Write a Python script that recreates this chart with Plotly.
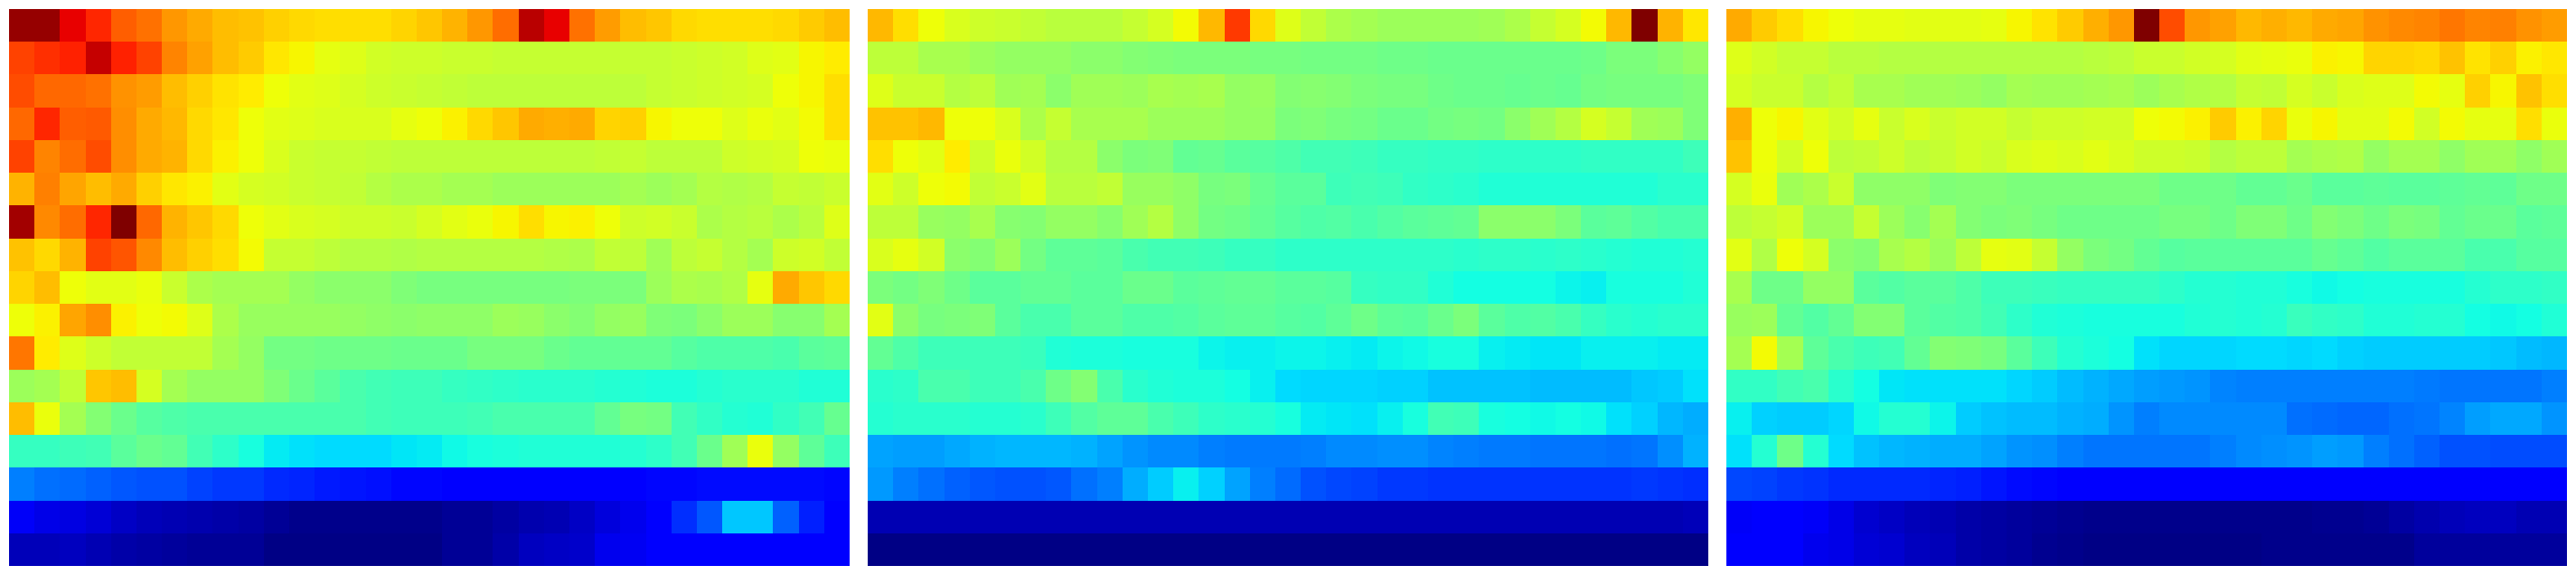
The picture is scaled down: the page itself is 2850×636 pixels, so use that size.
import plotly.graph_objects as go

panel_a = [
[98,98,91,87,81,79,75,73,71,70.5,69,68,67.5,67.5,67.5,68.5,70,72,75,79.5,95,91,79,74.5,71,70,68,67.5,67.5,67.5,68,69.5,71],
[84,86,87.5,94,87.5,84,77,74,71,69.5,66.5,65,63,62,60.5,60,60,59.5,59.5,59,59,59,59,59,59,59,59.5,60,60.5,62,62.5,65,66],
[83,80,80,79,75.5,74.5,71,69,67,66,64,62.5,62,61,60,59.5,59,58.5,58,58,58,58,58,58,58,59,59.5,60,60.5,61,64,65,67.5],
[80,87,81,81.5,76,73,71.5,68,66.5,64,62.5,62,61.5,61.5,61.5,63,64,65.5,68,70,73,72.5,73,68.5,69,65,64,64,62,63.5,62.5,64.5,67.5],
[84,77,79.5,83,76,73,72,68,65.5,64,61.5,59.5,59,59,58.5,58,58,58,58,58,58,58,58,58.5,59,58,58,58,60,60.5,61,64,63.5],
[72,77.5,73.5,71,73,69,66.5,65.5,62.5,61,60.5,59.5,59,58.5,57,56,56,55,55,54,54,54,54,54,55,54,55,57,56.5,57,59,58.5,59.5],
[97,76.5,79.5,87,100,80,72,70,68,64,62.5,61.5,61,60,60,59.5,61,62.5,63.5,65,67.5,65,65.5,64,60,60.5,59.5,56,57,57.5,56,57.5,62],
[70.5,68,72,84,82,76.5,71,69,67.5,64.5,59,59,58,57,57,56.5,57,57,57,57,57,56.5,56,58.5,58,54.5,58,59,57,55,60,60.5,58.5],
[68.5,71,64,62.5,62.5,63.5,59.5,56,55,55,55,53,52,52,52,50.5,49.5,49.5,49.5,49.5,49.5,49.5,50,50,50,54,56,55.5,56.5,63,73,70,68],
[64,65.5,73.5,76,65.5,64,64.5,62,56,53.5,53.5,53.5,53.5,53,52.5,52,52.5,52.5,52.5,54,53.5,52,51,53,53.5,50.5,50,52,54,54,51.5,51.5,55],
[78.5,66,62,60,58.5,58.5,58.5,58.5,55,53,49,49,48.5,48.5,48.5,48,48,48,49.5,49.5,49.5,48,47,47,47,47,45.5,44.5,44.5,44.5,44,46,46.5],
[54,55,58.5,70,71,61,55,53,53,53,50.5,48,46,44,43,42.5,42.5,41.5,41,40.5,40,40,40,39.5,39,38.5,38.5,39.5,40,40,40,39,39],
[71,63.5,55,51,48,45.5,44.5,44,44,44,44,44,44,44,43,42.5,42.5,42.5,43,44,44,44,44,47,49.5,49,43,41,39.5,39,41,43,47.5],
[41.5,41.5,42.5,43,46,48,47,43,40.5,38,35.5,34.5,34,34,34,35,35.5,37,38,38.5,39,39,39,39,39.5,40.5,43,48,54.5,63.5,53,46.5,42.5],
[25,23.5,23,22,21,20.5,20.5,19,18,18,16.5,16,15,14.5,14,13,13,12,12,12,12,12,12,12.5,12.5,13,13,13.5,13.5,13.5,13.5,13.5,13],
[10.5,9,8.5,7.5,6,5,4.5,4,3.5,3,2,1,1,1,1,1,1,2,2,3,4,4.5,6,8,9.5,12,17,21,32,32,22,15.5,11],
[5,5,5.5,4.5,3.5,3,2.5,2,2,2,0.5,0.5,0.5,0.5,0.5,0.5,0.5,2,2,3.5,5.5,6,6.5,9.5,10,11,12,12,12,12,12,12,12],
]

panel_b = [
[71.5,67.5,64,61.5,60,59.5,58.5,57.5,57.5,57.5,59,61,64.5,71.5,85,68,62,58.5,56,55,54,54,54,54,54.5,56,59,61,64.5,71.5,100,72,66.5],
[58,58,55.5,55.5,54,53,53,53,52,52,51,50.5,50,50,50,49.5,49.5,49,49,49,48.5,48.5,48,48,48,48,48,48,48.5,50,50,51.5,53],
[62,59.5,59.5,57,58,54.5,55,52,54.5,54.5,54,55.5,55,55.5,53,53.5,51,51.5,51,50,49.5,49.5,48.5,48,48,47.5,48,47.5,49,49.5,49.5,49.5,50.5],
[70.5,70.5,71.5,64,64,61.5,56,59,55.5,55.5,55.5,54,54,54,53,53,50,50.5,49.5,49,48,48,49,49.5,49,52,54.5,57,61,59,54.5,54,50.5],
[67.5,64,62.5,66,60,63.5,60.5,57,57,52,50,50.5,47,47.5,46,45.5,44.5,43,43,42.5,41.5,41.5,41,41,40.5,40.5,40.5,40.5,41,41,41,41,42.5],
[62.5,60,64,64.5,58.5,59.5,62.5,57.5,57.5,58.5,53.5,53.5,52.5,49.5,50,47.5,46,46,42.5,43,42.5,41,40.5,40,39,39,39,39,39,39,39,40,40],
[58,58,53.5,53,55.5,51.5,51,53,53,51.5,54.5,57,52.5,49,48.5,47,45.5,44.5,45,44,45,46,46.5,47,52,52,52,50,46,46.5,45,44,44],
[61.5,63,60.5,52,51,54,49,46.5,46.5,46,44,43,43,42.5,41.5,41.5,40.5,40.5,40.5,40.5,40.5,40.5,40.5,40,40.5,40.5,40,40.5,40,39.5,39,39,39.5],
[50,49,50.5,48.5,46,46,47,47,46,46,48,48,46,46.5,47,47,46,46,45.5,41.5,41,41,39,37.5,37.5,37.5,37.5,36.5,36,38,38,38,39],
[62.5,52,49.5,50,50.5,46,44,44,46,46,44.5,44.5,45,46,46.5,46.5,45.5,45,46.5,48.5,46.5,46,48,50,46,44.5,45,44,41.5,40,39.5,40,40],
[47,44.5,42.5,42.5,42.5,42.5,42,39,38.5,38.5,38,38,38,36.5,36,36,36.5,36.5,36,35.5,36.5,37,38,38,36,35.5,35,35,36,36,36,35.5,35.5],
[40,40.5,44,44,42.5,42.5,44,48.5,51,44,40,39,38.5,38.5,37.5,36,34,33.5,33.5,33.5,33,33,31.5,31.5,31.5,31.5,31,31,31,31,32,32.5,34.5],
[39.5,40,40,40,39.5,39.5,40,42.5,45,46.5,46.5,44,42.5,40.5,40,39.5,38,35.5,35,34.5,36,38,43,42.5,38,37.5,37,37.5,37,34.5,33,30.5,29.5],
[28.5,28,28,29,30,30.5,30.5,30.5,30,28.5,27,26,26,25,24.5,24.5,24.5,25,26,26,26.5,26.5,25.5,25,24.5,24.5,24,24,24,23.5,24,26.5,30],
[27.5,25,23.5,22,21,20.5,20.5,21,23.5,25,29.5,32.5,36,33,28.5,25,23,20.5,19.5,19,18,18,17.5,17.5,17.5,17.5,17.5,17.5,17.5,17.5,18,17.5,17],
[4.5,4.5,4.5,4.5,4.5,4.5,4.5,4.5,4.5,4.5,4.5,4.5,4.5,4.5,4.5,4.5,4.5,4.5,4.5,4.5,4.5,4.5,4.5,4.5,4.5,4.5,4.5,4.5,4.5,4.5,4.5,4.5,5],
[0.5,0.5,0.5,0.5,0.5,0.5,0.5,0.5,0.5,0.5,0.5,0.5,0.5,0.5,0.5,0.5,0.5,0.5,0.5,0.5,0.5,0.5,0.5,0.5,0.5,0.5,0.5,0.5,0.5,0.5,0.5,0.5,0.5],
]

panel_c = [
[73,69.5,67.5,65,64,63,63,62.5,62.5,62.5,63,65,67,69.5,72.5,75,100,83,75,74,71.5,72.5,71.5,73,73.5,75.5,76.5,77,78.5,77,77.5,75.5,74.5],
[62,60.5,59,59,57.5,57.5,57,57,57,57,57,57,57,57,57.5,58,59.5,59.5,60.5,61,62.5,63,63.5,65.5,65,68.5,68.5,68,70.5,67,69,65.5,66.5],
[61,59.5,59.5,57,58.5,55.5,55.5,54.5,54.5,54,53,55,54.5,54.5,55,55.5,54,55.5,56.5,57,59,58.5,61,59.5,61.5,62,62,64.5,63,69,65,70.5,67.5],
[72.5,64,65,62.5,60.5,63,59.5,61.5,59.5,60.5,60.5,59,60,60,60.5,60.5,64,64.5,65.5,69.5,65.5,68.5,63.5,65,62.5,62.5,64.5,60.5,64.5,63,63,67.5,63.5],
[70.5,64,60.5,64,58,58.5,60,58,59,60.5,59.5,61.5,62,61.5,62.5,61.5,60,60,59.5,57,58,58,55,56,56.5,53,55,55,52.5,54.5,54.5,52.5,54.5],
[61,63.5,54.5,56,59.5,52.5,52.5,52.5,50.5,51,51,50,50,50,50,50,50,48.5,48.5,48.5,47,47,48,46,46,46.5,46,46,46.5,47,46.5,48.5,48.5],
[58,59,60.5,54,54,59,54,51.5,55,51,50,50.5,49.5,48.5,48.5,48.5,48.5,49.5,49.5,48.5,50.5,50.5,48.5,51,50,48.5,50,49.5,47,48,48,46,46.5],
[62.5,56.5,64,61,52,51,55.5,57,54,58,63,62.5,59,53,50,49,47,45.5,46,46,46,46,46,47.5,46.5,45,46,46,46,44,44,45.5,45.5],
[55.5,48.5,48.5,53,53,46,45,46,46,44.5,42.5,42.5,42,41.5,41.5,41.5,41.5,40.5,39.5,39.5,39,39,38,37,37.5,38,38,38,38,39.5,40.5,40.5,41],
[53.5,54,47,45,47,51,51,46,45,44.5,43,40.5,39,38.5,38,38,38,38,39,39.5,39,39.5,42,41,40.5,39,39,39.5,39.5,37.5,37,37.5,39],
[55,64.5,55,46.5,44,42.5,43,47,51,50.5,49.5,46,42.5,39.5,38.5,37.5,34.5,33.5,33.5,33.5,34,34,33.5,34,33,32.5,32.5,32.5,32.5,32.5,32,31,30.5],
[41,41,43,44,40,37.5,35,34.5,34.5,34.5,34.5,33.5,32.5,31,30,29,28,27.5,27,25.5,25,25,25,25,25,25,25,24.5,24,24,24,24,25],
[36,33,32.5,32.5,33.5,37,39.5,39.5,36.5,32.5,31.5,31,31,30,29.5,27,25,26,26,26,26,26,23.5,23,22.5,22.5,23.5,24,25.5,28,29,29,27],
[34.5,39.5,48.5,39.5,34,31.5,30.5,30,29.5,29.5,28.5,27,26.5,25,24,24,24,24,24,25,26,26.5,27,28,27.5,25,23.5,22,20.5,20.5,20,20,20],
[19.5,19,18,17.5,16.5,16.5,16.5,16.5,16,15.5,14.5,13.5,13,12,12,12,12,12,12,12,12,12,12,12,12,12,12,12,12,12,12,12,12],
[10.5,11.5,11.5,10.5,9,7,6,5,4.5,3.5,3,2.5,2,1.5,1,1,1,1,1,1,1,1,1,1.5,1.5,2,3,4,5,5.5,5.5,4.5,4.5],
[11.5,12,12,9.5,9,7.5,7,5.5,5,3.5,3,2.5,1.5,1,0.5,0.5,0.5,0.5,0.5,0.5,0.5,1,1,1,1,1,1,2.5,2.5,2.5,2.5,2.5,2.5],
]

jet = [[0,"#00007f"],[0.11,"#0000ff"],[0.125,"#0000ff"],[0.34,"#00dbff"],[0.35,"#00e6f7"],
       [0.375,"#14ffe2"],[0.64,"#eeff08"],[0.65,"#f7f600"],[0.66,"#ffec00"],[0.89,"#ff1300"],[0.91,"#e80000"],[1,"#7f0000"]]

W, H = 2834, 620
plot_w = W - 4
fig = go.Figure()
doms = [[0, 930 / plot_w], [950 / plot_w, 1880 / plot_w], [1900 / plot_w, 1]]
for i, p in enumerate((panel_a, panel_b, panel_c)):
    s = "" if i == 0 else str(i + 1)
    fig.add_trace(go.Heatmap(z=p, zmin=0, zmax=100, colorscale=jet, showscale=False,
                             xaxis="x" + s, yaxis="y" + s))
    fig.layout["xaxis" + s] = dict(domain=doms[i], visible=False, constrain="domain")
    fig.layout["yaxis" + s] = dict(domain=[0, 1], visible=False, autorange="reversed", anchor="x" + s)
fig.update_layout(width=W, height=H, margin=dict(l=2, r=2, t=2, b=2),
                  paper_bgcolor="white", plot_bgcolor="white", showlegend=False)
fig.write_html("out.html", config={"displayModeBar": False})
